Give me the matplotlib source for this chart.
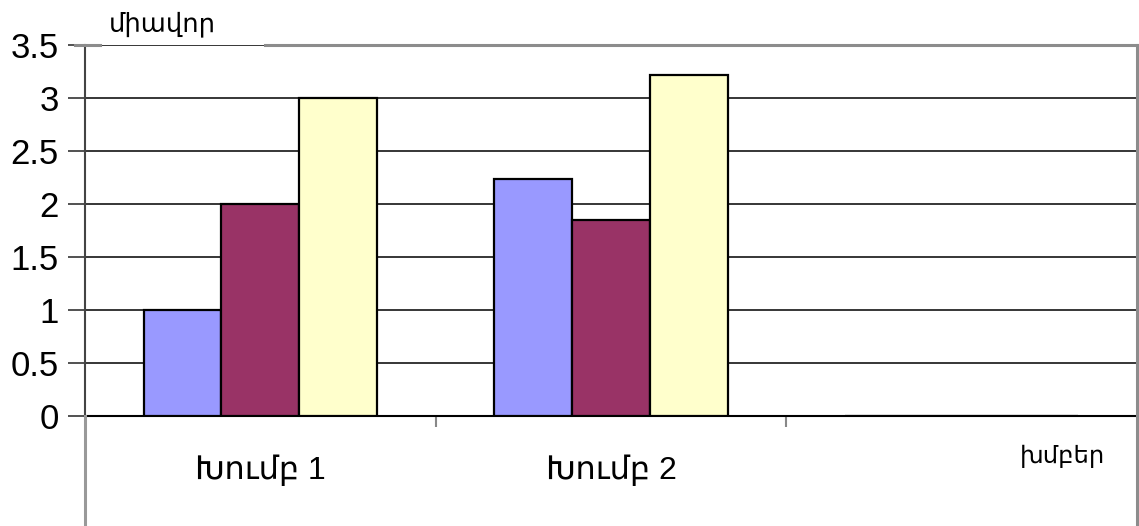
import matplotlib.pyplot as plt
from matplotlib.lines import Line2D
import numpy as np

# data
groups = ['Խումբ 1', 'Խումբ 2', '']
series_a = [1.0, 2.24, 0]
series_b = [2.0, 1.85, 0]
series_c = [3.0, 3.22, 0]
colors = ['#9999FF', '#993366', '#FFFFCC']
y_label = 'միավոր'
x_label = 'խմբեր'

fam = ['Liberation Sans', 'DejaVu Sans']
plt.rcParams['font.family'] = fam

fig = plt.figure(figsize=(11.39, 5.26), dpi=100)
ax = fig.add_axes([85/1139, 110/526, 1052/1139, 371/526])

x = np.arange(len(groups))
w = 0.222
for k, (vals, c) in enumerate(zip([series_a, series_b, series_c], colors)):
    ax.bar(x + (k-1)*w, vals, width=w, color=c, edgecolor='black', linewidth=1.6, zorder=3)

ax.set_xlim(-0.5, 2.5)
ax.set_ylim(0, 3.5)
ax.set_yticks(np.arange(0, 3.51, 0.5))
ax.set_yticklabels(['0', '0.5', '1', '1.5', '2', '2.5', '3', '3.5'])
ax.tick_params(axis='y', labelsize=25, length=12, width=1.2, color='#333333', pad=7)
ax.grid(axis='y', color='black', linewidth=1.1, zorder=0)
ax.set_axisbelow(True)

ax.set_xticks(x)
ax.set_xticklabels(groups, fontsize=23)
ax.tick_params(axis='x', length=0, pad=28)
ax.set_xticks([0.5, 1.5], minor=True)
ax.tick_params(axis='x', which='minor', length=8, width=1.5, color='#888888')

for s in ['top', 'right']:
    ax.spines[s].set_visible(False)
ax.spines['left'].set_color('#444444')
ax.spines['left'].set_linewidth(1.5)
ax.spines['bottom'].set_color('black')
ax.spines['bottom'].set_linewidth(1.5)

# gray frame around the plot area
gray = '#8c8c8c'
def fline(x0, y0, x1, y1, col=gray, lw=2.2):
    fig.add_artist(Line2D([x0/1139, x1/1139], [1-y0/526, 1-y1/526], color=col, linewidth=lw))
fline(75, 45, 100, 45)
fline(265, 45, 1137, 45)
fline(1137, 45, 1137, 526)
fline(85, 416, 85, 526, col='#999999')

fig.text(162/1139, 1-24/526, y_label, fontsize=18.5, ha='center', va='center')
fig.text(1062/1139, 1-456/526, x_label, fontsize=17.5, ha='center', va='center')

plt.savefig('out.png', dpi=100)
